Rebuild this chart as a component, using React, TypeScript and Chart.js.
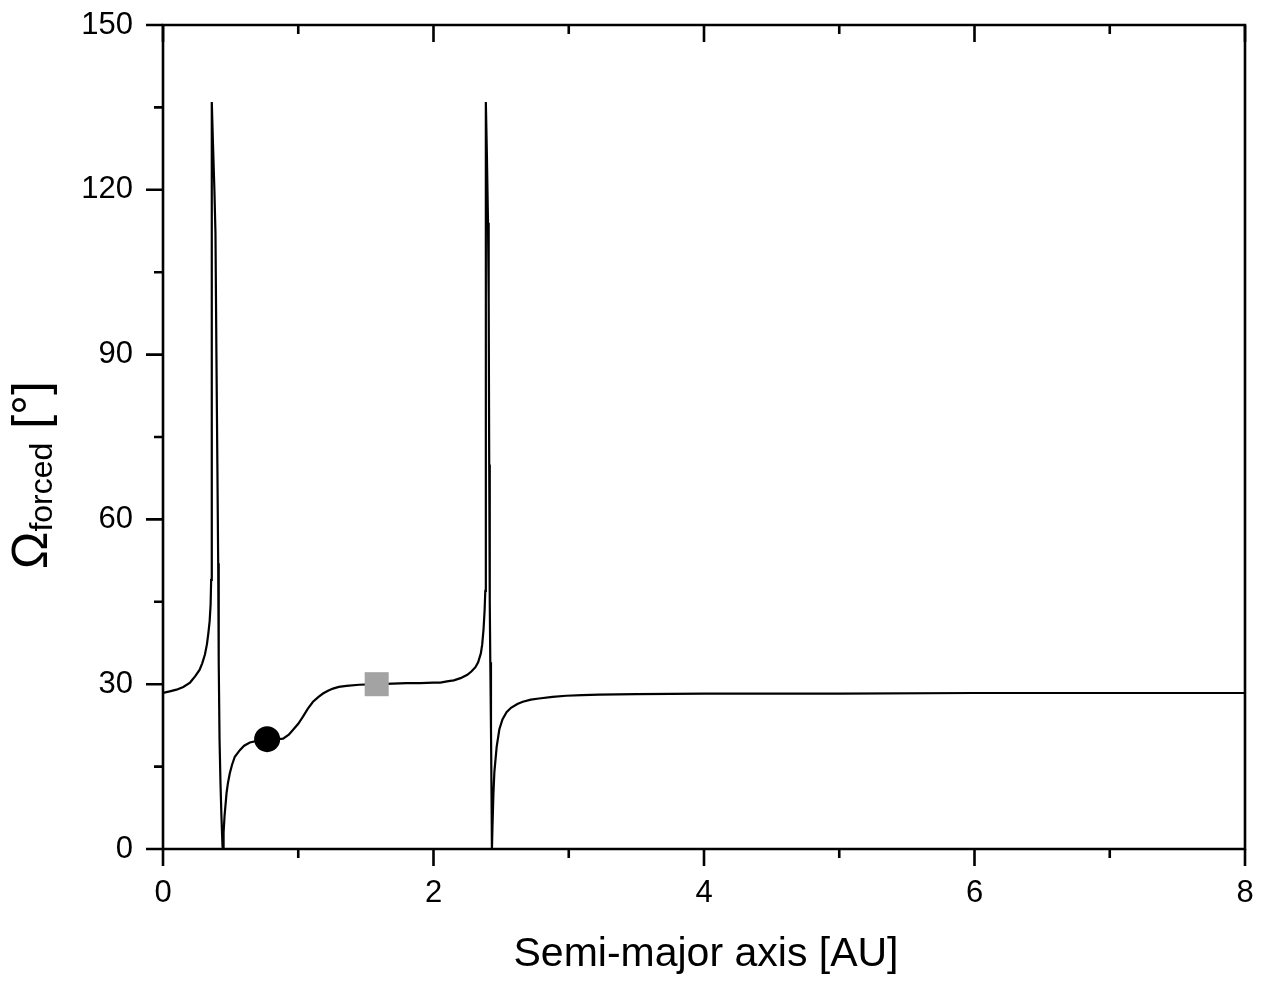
import React, { useEffect, useRef } from "react";
import { Chart, registerables } from "chart.js";

Chart.register(...registerables);

// Semi-major axis [AU]
const aValues: number[] = [
  0, 0.05, 0.1, 0.15, 0.2, 0.24, 0.27, 0.29, 0.31, 0.325, 0.335, 0.345, 0.352, 0.356, 0.359, 0.361, 0.362,
  0.37, 0.38, 0.388, 0.395, 0.402, 0.408, 0.412, 0.418, 0.425, 0.432, 0.44, 0.444,
  0.448, 0.455, 0.465, 0.47, 0.48, 0.494, 0.51, 0.531, 0.568, 0.6, 0.642, 0.7, 0.77, 0.85, 0.888, 0.93, 0.962,
  1.0, 1.035, 1.07, 1.109, 1.15, 1.183, 1.22, 1.257, 1.3, 1.356, 1.45, 1.58, 1.7, 1.8, 1.9, 2.0, 2.05, 2.1,
  2.15, 2.2, 2.25, 2.28, 2.31, 2.33, 2.35, 2.36, 2.37, 2.378, 2.383, 2.386, 2.388,
  2.395, 2.403, 2.408, 2.412, 2.416, 2.42, 2.425, 2.429, 2.432,
  2.436, 2.443, 2.45, 2.467, 2.487, 2.51, 2.54, 2.573, 2.62, 2.66, 2.72, 2.78, 2.88, 2.98, 3.1, 3.225, 3.5,
  4, 5, 6, 7, 8,
];

// Omega_forced [deg]
const omegaValues: number[] = [
  28.4, 28.7, 29.0, 29.5, 30.3, 31.5, 32.6, 33.8, 35.4, 37.3, 39.2, 41.5, 44.5, 49, 56, 80, 136,
  128, 120, 112, 90, 70, 52, 34, 20, 12, 6, 0.5, 0,
  3, 6, 8.8, 10.2, 12, 13.8, 15.3, 16.8, 18, 18.8, 19.4, 19.7, 19.9, 20.0, 20.1, 20.8, 21.7,
  22.8, 24.1, 25.5, 26.8, 27.7, 28.3, 28.8, 29.2, 29.5, 29.7, 29.9, 30.0, 30.1, 30.2, 30.2, 30.3, 30.3, 30.5,
  30.7, 31.1, 31.7, 32.3, 33.1, 34.0, 35.6, 37.2, 40, 43.5, 47, 60, 136,
  126, 114, 100, 70, 45, 34, 22, 10, 0,
  4, 10, 14, 18.6, 21.8, 23.6, 24.9, 25.7, 26.4, 26.8, 27.2, 27.4, 27.7, 27.9, 28.0, 28.1, 28.2,
  28.3, 28.3, 28.4, 28.4, 28.4,
];

// Highlighted points
const circlePoint = { a: 0.77, omega: 20 };
const squarePoint = { a: 1.58, omega: 30 };

// Axis ticks
const xMajorTicks = [0, 2, 4, 6, 8];
const xMinorTicks = [1, 3, 5, 7];
const yMajorTicks = [0, 30, 60, 90, 120, 150];
const yMinorTicks = [15, 45, 75, 105, 135];

const FONT = "'Liberation Sans', Arial, Helvetica, sans-serif";

const framePlugin = {
  id: "frame",
  afterDraw(chart: any) {
    const ctx = chart.ctx as CanvasRenderingContext2D;
    const area = chart.chartArea;
    const xs = chart.scales.x;
    const ys = chart.scales.y;
    const MAJ = 17;
    const MIN = 9;
    ctx.save();
    ctx.strokeStyle = "#000";
    ctx.lineWidth = 2.6;
    ctx.lineCap = "butt";
    // frame
    ctx.beginPath();
    ctx.moveTo(area.left, area.top);
    ctx.lineTo(area.right, area.top);
    ctx.lineTo(area.right, area.bottom);
    ctx.lineTo(area.left, area.bottom);
    ctx.closePath();
    ctx.stroke();
    ctx.beginPath();
    // bottom & top x ticks
    for (const v of xMajorTicks) {
      const px = xs.getPixelForValue(v);
      ctx.moveTo(px, area.bottom);
      ctx.lineTo(px, area.bottom + MAJ);
      ctx.moveTo(px, area.top);
      ctx.lineTo(px, area.top + MAJ);
    }
    for (const v of xMinorTicks) {
      const px = xs.getPixelForValue(v);
      ctx.moveTo(px, area.bottom);
      ctx.lineTo(px, area.bottom + MIN);
      ctx.moveTo(px, area.top);
      ctx.lineTo(px, area.top + MIN);
    }
    // left y ticks
    for (const v of yMajorTicks) {
      const py = ys.getPixelForValue(v);
      ctx.moveTo(area.left, py);
      ctx.lineTo(area.left - MAJ, py);
    }
    for (const v of yMinorTicks) {
      const py = ys.getPixelForValue(v);
      ctx.moveTo(area.left, py);
      ctx.lineTo(area.left - MIN, py);
    }
    ctx.stroke();

    // x title
    ctx.fillStyle = "#000";
    ctx.font = `41px ${FONT}`;
    ctx.textAlign = "center";
    ctx.textBaseline = "alphabetic";
    ctx.fillText("Semi-major axis [AU]", 706, 966);

    // y title with subscript
    const bigFont = `50px ${FONT}`;
    const subFont = `32px ${FONT}`;
    ctx.font = bigFont;
    const wOmega = ctx.measureText("\u03A9").width;
    const wBr = ctx.measureText(" [\u00B0]").width;
    ctx.font = subFont;
    const wSub = ctx.measureText("forced").width;
    const total = wOmega + wSub + wBr;
    ctx.translate(47, 475);
    ctx.rotate(-Math.PI / 2);
    ctx.textAlign = "left";
    let x0 = -total / 2;
    ctx.font = bigFont;
    ctx.fillText("\u03A9", x0, 0);
    x0 += wOmega;
    ctx.font = subFont;
    ctx.fillText("forced", x0, 5);
    x0 += wSub;
    ctx.font = bigFont;
    ctx.fillText(" [\u00B0]", x0, 0);
    ctx.restore();
  },
};

export default function App() {
  const canvasRef = useRef<HTMLCanvasElement | null>(null);

  useEffect(() => {
    const canvas = canvasRef.current;
    if (!canvas) return;
    const lineData = aValues.map((a, i) => ({ x: a, y: omegaValues[i] }));
    const chart = new Chart(canvas, {
      type: "scatter",
      data: {
        datasets: [
          {
            data: [{ x: circlePoint.a, y: circlePoint.omega }],
            pointStyle: "circle",
            pointRadius: 13,
            backgroundColor: "#000",
            borderWidth: 0,
            order: 0,
          } as any,
          {
            data: [{ x: squarePoint.a, y: squarePoint.omega }],
            pointStyle: "rect",
            pointRadius: 17,
            backgroundColor: "#a3a3a3",
            borderWidth: 0,
            order: 0,
          } as any,
          {
            data: lineData,
            showLine: true,
            borderColor: "#000",
            borderWidth: 2.2,
            pointRadius: 0,
            tension: 0,
            order: 1,
          } as any,
        ],
      },
      options: {
        animation: false,
        responsive: false,
        events: [],
        layout: { padding: { top: 25, right: 14, left: 0, bottom: 0 } },
        plugins: { legend: { display: false }, tooltip: { enabled: false } },
        scales: {
          x: {
            type: "linear",
            min: 0,
            max: 8,
            grid: { display: false, drawTicks: false, tickLength: 0 },
            border: { display: false },
            ticks: {
              stepSize: 2,
              color: "#000",
              padding: 26,
              maxRotation: 0,
              font: { family: FONT, size: 31 },
            },
            afterFit: (scale: any) => {
              scale.height = 141;
              scale.paddingLeft = 0;
              scale.paddingRight = 0;
            },
          },
          y: {
            type: "linear",
            min: 0,
            max: 150,
            grid: { display: false, drawTicks: false, tickLength: 0 },
            border: { display: false },
            ticks: {
              stepSize: 30,
              color: "#000",
              padding: 30,
              font: { family: FONT, size: 31 },
            },
            afterFit: (scale: any) => {
              scale.width = 163;
              scale.paddingTop = 0;
              scale.paddingBottom = 0;
            },
          },
        },
      },
      plugins: [framePlugin],
    });
    return () => chart.destroy();
  }, []);

  return (
    <div style={{ width: 1262, height: 990, background: "#fff" }}>
      <style>{"body{margin:0;background:#fff}"}</style>
      <canvas ref={canvasRef} width={1262} height={990} style={{ display: "block" }} />
    </div>
  );
}
